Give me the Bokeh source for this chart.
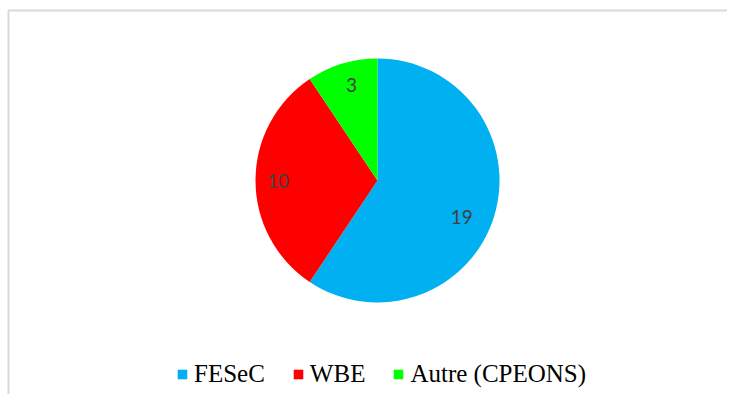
import numpy as np
from bokeh.plotting import figure
from bokeh.models import Range1d, Legend, LegendItem, ColumnDataSource
from bokeh.core.properties import value
from bokeh.embed import file_html
from bokeh.resources import INLINE

categories = ["FESeC", "WBE", "Autre (CPEONS)"]
counts = [19, 10, 3]
colors = ["#00B0F0", "#FF0000", "#00FF00"]

W, H = 727, 394
p = figure(width=W, height=H, x_range=Range1d(0, W), y_range=Range1d(0, H),
           output_backend="svg", toolbar_location=None, min_border=0,
           x_axis_location=None, y_axis_location=None)
p.grid.visible = False
p.outline_line_color = None
p.background_fill_color = "white"
p.border_fill_color = "white"

# chart border (light gray, top and left)
p.line(x=[8, 8, W], y=[0, H - 10, H - 10], line_color="#d9d9d9", line_width=2)

cx, cy, R = 377, H - 180, 122
total = sum(counts)
fr = np.array(counts, dtype=float) / total
ends_cw = np.pi / 2 - 2 * np.pi * np.cumsum(fr)
starts_cw = np.concatenate([[np.pi / 2], ends_cw[:-1]])
mid = (starts_cw + ends_cw) / 2

# label placement (layout only): radius fraction and small pixel nudges
lr = 0.79 * R
nudge_x = np.array([-8, -3, 2])
nudge_y = np.array([-9, 0, 3])

src = ColumnDataSource(dict(
    cat=categories, val=counts, color=colors,
    start=ends_cw, end=starts_cw,
    lx=cx + lr * np.cos(mid) + nudge_x, ly=cy + lr * np.sin(mid) + nudge_y,
    lab=[str(v) for v in counts],
))

wr = p.wedge(x=cx, y=cy, radius=R, start_angle="start", end_angle="end",
             fill_color="color", line_color=None, source=src)

p.text(x="lx", y="ly", text="lab", source=src, text_align="center",
       text_baseline="middle", text_font=value("Lato"), text_font_size="19px",
       text_color="#404040")

items = [LegendItem(label=c, renderers=[wr], index=i) for i, c in enumerate(categories)]
legend = Legend(items=items, orientation="horizontal", location=(176, 6),
                glyph_width=12, glyph_height=12, label_text_font="Liberation Serif",
                label_text_font_size="25px", label_text_color="#000000",
                label_standoff=6, spacing=27, padding=0, margin=0,
                border_line_color=None, background_fill_alpha=0)
p.add_layout(legend, "center")

open("out.html", "w").write(file_html(p, INLINE))
